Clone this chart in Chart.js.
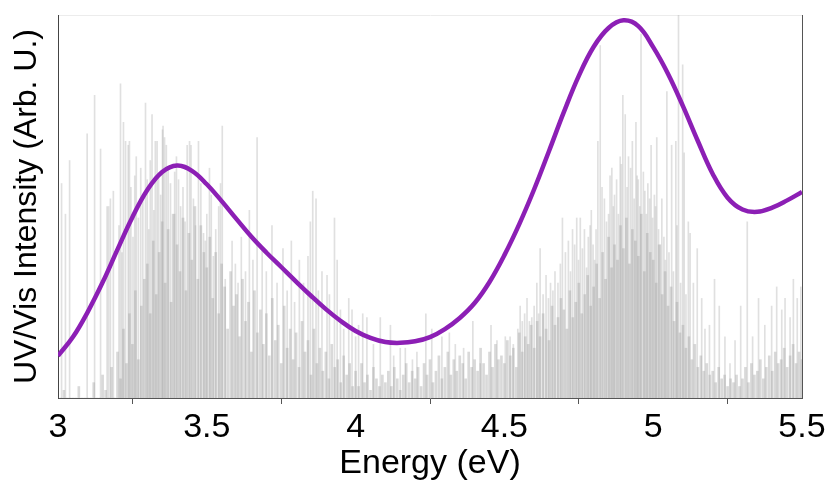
<!DOCTYPE html>
<html><head><meta charset="utf-8">
<script src="https://cdn.jsdelivr.net/npm/chart.js@4.4.0/dist/chart.umd.min.js"></script>
<style>html,body{margin:0;padding:0;background:#fff}#wrap{width:834px;height:486px}</style>
</head><body><div id="wrap"><canvas id="c" width="834" height="486"></canvas></div>
<script>
// ---- data ----
const xTicks = [3, 3.5, 4, 4.5, 5, 5.5];
const xTickLabels = ['3', '3.5', '4', '4.5', '5', '5.5'];

// broadened spectrum (purple curve)
const curveE = [3.00,3.05,3.10,3.15,3.20,3.25,3.30,3.35,3.40,3.45,3.50,3.55,3.60,3.65,3.70,3.75,3.80,3.85,3.90,3.95,
                4.00,4.05,4.10,4.15,4.20,4.25,4.30,4.35,4.40,4.45,4.50,4.55,4.60,4.65,4.70,4.75,4.80,4.85,4.90,4.95,
                5.00,5.05,5.10,5.15,5.20,5.25,5.30,5.35,5.40,5.45,5.50];
const curveI = [11.0,15.9,22.5,30.2,38.8,47.2,54.3,59.0,60.7,59.3,55.8,51.4,46.7,42.1,38.0,34.2,30.4,26.7,23.2,20.1,
                17.5,15.7,14.6,14.4,14.8,15.9,18.0,20.9,24.8,30.3,37.3,45.4,54.5,64.5,74.7,84.1,91.7,96.6,98.6,97.1,
                91.6,84.6,76.2,67.1,58.5,52.3,49.2,48.6,49.7,51.6,53.8];

// individual transitions (taller sticks)
const stickE = [3.012,3.025,3.039,3.098,3.123,3.143,3.165,3.170,3.176,3.186,3.205,3.210,3.215,3.220,3.227,3.236,3.240,3.245,3.252,3.258,
  3.263,3.270,3.278,3.285,3.294,3.300,3.305,3.310,3.316,3.322,3.327,3.333,3.338,3.345,3.351,3.353,3.358,3.364,3.370,3.378,
  3.385,3.392,3.398,3.405,3.412,3.420,3.427,3.434,3.442,3.447,3.455,3.462,3.472,3.480,3.489,3.495,3.500,3.509,3.515,3.522,
  3.530,3.540,3.546,3.552,3.562,3.585,3.596,3.605,3.616,3.630,3.643,3.655,3.669,3.686,3.700,3.719,3.736,3.756,3.770,3.784,
  3.795,3.811,3.825,3.840,3.848,3.856,3.867,3.875,3.887,3.904,3.912,3.929,3.938,3.949,3.960,3.977,3.988,4.000,4.010,4.024,
  4.038,4.060,4.083,4.117,4.128,4.150,4.167,4.191,4.206,4.236,4.256,4.290,4.315,4.335,4.363,4.394,4.419,4.455,4.475,4.503,
  4.519,4.530,4.545,4.553,4.560,4.568,4.576,4.584,4.592,4.600,4.609,4.615,4.620,4.630,4.640,4.648,4.655,4.663,4.670,4.680,
  4.688,4.695,4.705,4.715,4.722,4.729,4.736,4.743,4.749,4.755,4.762,4.769,4.776,4.782,4.788,4.792,4.798,4.803,4.808,4.814,
  4.822,4.828,4.836,4.843,4.850,4.855,4.861,4.866,4.870,4.877,4.883,4.889,4.893,4.898,4.906,4.912,4.917,4.924,4.930,4.936,
  4.942,4.946,4.950,4.955,4.959,4.967,4.972,4.977,4.982,4.988,4.993,4.998,5.004,5.008,5.012,5.018,5.024,5.029,5.036,5.041,
  5.046,5.053,5.062,5.068,5.076,5.080,5.085,5.092,5.099,5.104,5.110,5.118,5.124,5.135,5.148,5.163,5.174,5.189,5.206,5.222,
  5.241,5.258,5.275,5.294,5.316,5.334,5.354,5.375,5.398,5.415,5.432,5.443,5.460,5.471,5.484,5.496];
const stickH = [56,48,62,69,79,65,50,50,52,54,45,82,38,72,67,66,67,55,42,58,
  63,47,60,52,77,57,44,62,74,49,67,67,58,53,70,71,68,66,60,56,
  48,59,63,57,50,55,46,66,67,66,52,45,67,56,43,41,48,60,53,37,
  44,50,56,71,31,41,35,30,42,33,49,36,68,39,33,45,30,39,28,41,
  25,36,30,37,46,54,52,28,33,32,27,47,36,23,18,26,23,16,19,22,
  21,14,21,19,11,13,13,10,12,22,18,16,17,14,13,20,9,19,15,16,
  16,14,18,24,20,22,26,20,21,24,30,22,39,27,32,26,30,28,33,30,
  35,47,38,41,33,44,40,47,36,47,39,44,34,42,45,49,40,36,44,67,
  92,55,52,46,48,58,60,50,53,57,48,63,61,79,74,55,63,60,67,52,
  72,58,57,50,95,59,54,48,56,52,66,47,53,50,68,44,40,52,42,36,
  80,38,66,33,67,45,100,30,87,64,27,46,43,30,39,26,18,19,31,24,
  16,9,15,24,46,16,26,19,24,29,23,26,21,31,26,29];

// dense low-lying transitions: one value per 0.01 eV from 3.00 to 5.50
const denseStart = 3.00, denseStep = 0.01;
const denseH = [
  0,0,2,0,0,0,0,3,0,0,
  0,0,4,0,0,6,2,0,8,0,
  12,5,18,9,22,14,28,10,24,31,
  35,22,41,27,38,46,30,44,25,48,
  40,33,47,28,43,36,50,31,45,38,
  34,42,26,38,22,35,29,18,33,24,
  27,16,31,20,25,12,28,17,23,14,
  22,11,26,15,19,9,24,13,18,10,
  17,8,20,12,15,6,18,9,13,7,
  12,5,14,8,10,4,11,6,9,3,
  7,3,9,4,6,2,8,5,3,6,
  4,7,3,8,5,2,6,9,4,7,
  5,8,3,9,6,10,4,7,11,5,
  8,12,6,10,7,11,9,5,12,8,
  10,7,13,9,6,12,8,14,10,11,
  9,15,11,13,8,17,12,16,14,19,
  13,20,16,22,18,15,24,19,21,26,
  23,18,28,21,25,30,22,27,32,24,
  29,35,26,38,31,42,34,40,36,45,
  39,47,35,44,41,37,48,33,43,38,
  36,30,40,27,33,24,29,20,25,17,
  19,13,16,10,14,8,11,7,9,6,
  7,4,8,5,6,3,5,4,6,3,
  5,8,4,9,6,7,10,5,8,11,
  7,12,9,10,13,8,11,14,9,12,
  10];

// ---- build datasets ----
const curvePts = curveE.map((e, i) => ({x: e, y: curveI[i]}));
const stickPts = stickE.map((e, i) => ({x: e, y: stickH[i]}));
const densePts = denseH.map((h, i) => ({x: +(denseStart + i * denseStep).toFixed(3), y: h}));

const FONT = "'Liberation Sans', Arial, Helvetica, sans-serif";

new Chart(document.getElementById('c'), {
  type: 'bar',
  data: {
    datasets: [
      {type: 'line', data: curvePts, borderColor: '#8c1fb5', borderWidth: 4.5, pointRadius: 0,
       tension: 0.4, fill: false, order: 0, xAxisID: 'x', yAxisID: 'y'},
      {type: 'bar', data: densePts, backgroundColor: 'rgba(160,160,160,0.4)', barThickness: 2,
       grouped: false, order: 1, xAxisID: 'x', yAxisID: 'y'},
      {type: 'bar', data: stickPts, backgroundColor: 'rgba(160,160,160,0.33)', barThickness: 1,
       grouped: false, order: 2, xAxisID: 'x', yAxisID: 'y'}
    ]
  },
  options: {
    responsive: false, animation: false, devicePixelRatio: 1,
    layout: {padding: {left: 4, right: 0, top: 0, bottom: 0}},
    plugins: {legend: {display: false}, tooltip: {enabled: false}},
    scales: {
      x: {
        type: 'linear', position: 'bottom', min: 3, max: 5.5, offset: false,
        afterBuildTicks: s => { s.ticks = xTicks.map(v => ({value: v})); },
        ticks: {font: {family: FONT, size: 34}, color: '#000', padding: 3, maxRotation: 0, autoSkip: false,
                callback: v => { const i = xTicks.indexOf(v); return i >= 0 ? xTickLabels[i] : ''; }},
        grid: {drawOnChartArea: false, drawTicks: true, tickLength: 6, color: '#555'},
        border: {display: true, color: '#555', width: 1},
        title: {display: true, text: 'Energy (eV)', font: {family: FONT, size: 34}, color: '#000', padding: {top: 0, bottom: 2}},
        afterFit: s => { s.height = 88; }
      },
      x2: {
        type: 'linear', position: 'top', min: 3, max: 5.5,
        ticks: {display: false}, grid: {display: false, drawTicks: false},
        border: {display: true, color: '#ececec', width: 1},
        afterFit: s => { s.height = 15; }
      },
      y: {
        type: 'linear', position: 'left', min: 0, max: 100,
        ticks: {display: false}, grid: {display: false, drawTicks: false},
        border: {display: true, color: '#444', width: 1},
        title: {display: true, text: 'UV/Vis Intensity (Arb. U.)', font: {family: FONT, size: 32}, color: '#000', padding: {top: 4, bottom: 0}},
        afterFit: s => { s.width = 54; }
      },
      y2: {
        type: 'linear', position: 'right', min: 0, max: 100,
        ticks: {display: false}, grid: {display: false, drawTicks: false},
        border: {display: true, color: '#555', width: 1},
        afterFit: s => { s.width = 32; }
      }
    }
  }
});
</script>
</body></html>
